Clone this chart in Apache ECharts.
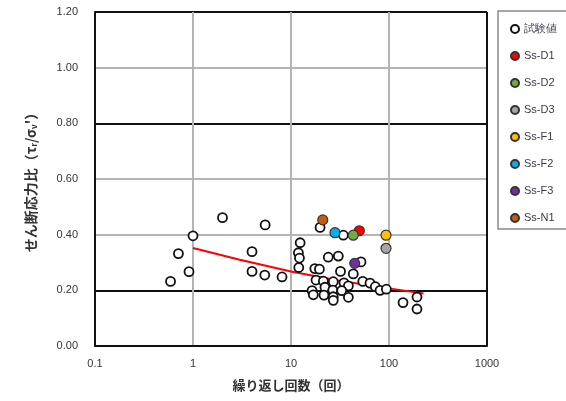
<!DOCTYPE html>
<html><head><meta charset="utf-8">
<script src="https://cdn.jsdelivr.net/npm/echarts@6/dist/echarts.min.js"></script>
<style>html,body{margin:0;padding:0;background:#fff}#c{width:566px;height:401px}</style>
</head><body><div id="c"></div>
<script>
// ---- data ----
const xTicks = [0.1, 1, 10, 100, 1000];
const yTicks = [0, 0.2, 0.4, 0.6, 0.8, 1.0, 1.2];
const testValues = [
  [0.59,0.232],[0.71,0.332],[0.91,0.267],[1.0,0.396],[2.0,0.461],[4.0,0.339],[4.0,0.268],
  [5.45,0.435],[5.4,0.255],[8.1,0.248],[12.4,0.371],[11.9,0.335],[12.2,0.316],[12.0,0.282],
  [24.0,0.319],[30.4,0.323],[19.8,0.426],[34.2,0.398],[51.8,0.302],[17.5,0.278],[19.5,0.276],
  [32.0,0.268],[43.2,0.259],[18.0,0.237],[21.4,0.233],[27.0,0.231],[54.0,0.232],[64.0,0.226],
  [72.5,0.213],[81.0,0.200],[94.0,0.204],[34.7,0.227],[38.5,0.216],[16.4,0.199],[16.9,0.184],
  [22.2,0.211],[21.7,0.183],[26.7,0.201],[27.0,0.177],[27.0,0.164],[32.9,0.199],[38.5,0.175],
  [139,0.156],[193,0.176],[193,0.133]
];
const ssD1 = [[49.8,0.414]];
const ssD2 = [[43.2,0.398]];
const ssD3 = [[93.2,0.351]];
const ssF1 = [[93.2,0.398]];
const ssF2 = [[28.1,0.407]];
const ssF3 = [[44.7,0.297]];
const ssN1 = [[21.1,0.453]];
const trendLine = [[1,0.352],[3,0.31],[10,0.268],[30,0.235],[100,0.207],[225,0.189]];
const seriesNames = ['試験値','Ss-D1','Ss-D2','Ss-D3','Ss-F1','Ss-F2','Ss-F3','Ss-N1'];
const seriesColors = ['#ffffff','#ff0000','#70ad47','#a5a5a5','#ffc000','#00b0f0','#7030a0','#c55a11'];
const seriesData = [testValues, ssD1, ssD2, ssD3, ssF1, ssF2, ssF3, ssN1];

const chart = echarts.init(document.getElementById('c'));
const font = '"Liberation Sans", Arial, sans-serif';
const scatterSeries = seriesNames.map((n,i)=>({
  name: n, type: 'scatter', data: seriesData[i], symbol: 'circle', symbolSize: i === 0 ? 9 : 10,
  z: i === 0 ? 3 : 4,
  itemStyle: { color: seriesColors[i], borderColor: i===0 ? '#111' : '#333', borderWidth: i===0 ? 1.8 : 1.2, opacity: 1 }
}));
chart.setOption({
  animation: false,
  backgroundColor: '#fff',
  grid: { left: 95, top: 12, right: 79, bottom: 55 },
  graphic: [{ type: 'rect', z: 1, shape: { x: 498, y: 11, width: 80, height: 218 },
    style: { fill: '#fff', stroke: '#8a8a8a', lineWidth: 1.5 } }],
  legend: {
    orient: 'vertical', left: 505, top: 18, itemWidth: 8, itemHeight: 8, itemGap: 15,
    data: seriesNames, icon: 'circle',
    textStyle: { fontSize: 11, color: '#3a3a4a', fontFamily: font, lineHeight: 12 }
  },
  xAxis: {
    type: 'log', logBase: 10, min: xTicks[0], max: xTicks[xTicks.length-1],
    name: '繰り返し回数（回）', nameLocation: 'middle', nameGap: 33,
    nameTextStyle: { fontSize: 13, color: '#333', fontWeight: 'bold', fontFamily: '"Noto Sans CJK JP"' },
    axisLine: { show: true, onZero: false, lineStyle: { color: '#111', width: 2 } },
    axisTick: { show: false },
    axisLabel: { fontSize: 11, color: '#333', fontFamily: font, margin: 12,
      formatter: v => String(+(+v).toPrecision(3)) },
    splitLine: { show: true, lineStyle: { color: ['#111','#b4b4b4','#b4b4b4','#b4b4b4','#111'], width: 2 } }
  },
  yAxis: {
    type: 'value', min: yTicks[0], max: yTicks[yTicks.length-1], interval: 0.2,
    name: 'せん断応力比（τ{s|r}/σ{s|v}\'）', nameLocation: 'middle', nameGap: 57,
    nameTextStyle: { fontSize: 14, color: '#333', fontWeight: 'bold', fontFamily: '"Noto Sans CJK JP"',
      rich: { s: { fontSize: 8, color: '#333', padding: [6,0,0,0] } } },
    axisLine: { show: true, lineStyle: { color: '#111', width: 2 } },
    axisTick: { show: false },
    axisLabel: { fontSize: 11, color: '#333', fontFamily: font, margin: 17, formatter: v => v.toFixed(2) },
    splitLine: { show: true, lineStyle: { color: ['#111','#111','#b4b4b4','#b4b4b4','#111','#b4b4b4','#111'], width: 2 } }
  },
  series: scatterSeries.concat([{
    name: 'trend', type: 'line', data: trendLine, showSymbol: false, symbol: 'none', z: 2,
    lineStyle: { color: '#ff0000', width: 2 }, smooth: false
  }])
});
</script></body></html>
